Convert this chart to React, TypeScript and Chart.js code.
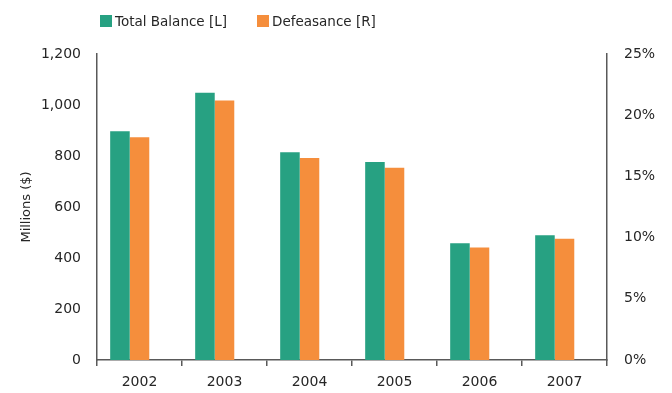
import React, { useEffect, useRef } from "react";
import { Chart, registerables } from "chart.js";

Chart.register(...registerables);

const categories = ["2002", "2003", "2004", "2005", "2006", "2007"];
const totalBalance = [897, 1048, 815, 776, 458, 489];
const defeasance = [18.2, 21.2, 16.5, 15.7, 9.2, 9.9];
const spacer = [null, null, null, null, null, null];
const seriesNames = ["Total Balance [L]", "Defeasance [R]"];
const seriesColors = ["#27a182", "#f58e3c"];
const leftTicks = { min: 0, max: 1200, step: 200 };
const rightTicks = { min: 0, max: 25, step: 5 };

const FONT = "'DejaVu Sans', sans-serif";
const AXIS = "#595959";
const TEXT = "#262626";

export default function App() {
  const ref = useRef<HTMLCanvasElement>(null);

  useEffect(() => {
    if (!ref.current) return;
    const chart = new Chart(ref.current, {
      type: "bar",
      data: {
        labels: categories,
        datasets: [
          {
            label: seriesNames[0],
            data: totalBalance,
            backgroundColor: seriesColors[0],
            yAxisID: "y",
            borderWidth: 0,
          },
          {
            label: seriesNames[1],
            data: defeasance,
            backgroundColor: seriesColors[1],
            yAxisID: "y1",
            borderWidth: 0,
          },
          {
            label: "",
            data: spacer as any,
            backgroundColor: "rgba(0,0,0,0)",
            yAxisID: "y",
            borderWidth: 0,
          },
        ],
      },
      options: {
        animation: false,
        responsive: true,
        maintainAspectRatio: false,
        datasets: { bar: { categoryPercentage: 0.69, barPercentage: 1 } },
        layout: { padding: { top: 46, left: 0, right: 0, bottom: 0 } },
        plugins: {
          legend: { display: false },
          tooltip: { enabled: false },
        },
        scales: {
          x: {
            type: "category",
            offset: true,
            grid: {
              display: true,
              drawOnChartArea: false,
              drawTicks: true,
              tickLength: 6,
              color: AXIS,
              lineWidth: 1.5,
              offset: true,
            },
            border: { display: true, color: AXIS, width: 1.5 },
            ticks: {
              color: TEXT,
              font: { family: FONT, size: 14 },
              padding: 8,
              maxRotation: 0,
            },
            afterFit: (s: any) => {
              s.height = 33;
            },
          },
          y: {
            position: "left",
            min: leftTicks.min,
            max: leftTicks.max,
            grid: { display: false, drawTicks: false },
            border: { display: true, color: AXIS, width: 1.5 },
            ticks: {
              stepSize: leftTicks.step,
              color: TEXT,
              font: { family: FONT, size: 14 },
              padding: 16,
              callback: (v: any) => Number(v).toLocaleString("en-US"),
            },
            title: {
              display: true,
              text: "Millions ($)",
              color: TEXT,
              font: { family: FONT, size: 13 },
              padding: { top: 11, bottom: 0 },
            },
            afterFit: (s: any) => {
              s.width = 89;
            },
          },
          y1: {
            position: "right",
            min: rightTicks.min,
            max: rightTicks.max,
            grid: { display: false, drawTicks: false },
            border: { display: true, color: AXIS, width: 1.5 },
            ticks: {
              stepSize: rightTicks.step,
              color: TEXT,
              font: { family: FONT, size: 14 },
              padding: 17,
              callback: (v: any) => `${v}%`,
            },
            afterFit: (s: any) => {
              s.width = 57;
            },
          },
        },
      },
    });
    return () => chart.destroy();
  }, []);

  const legendLeft = [92, 249];

  return (
    <div style={{ position: "relative", width: 656, height: 385 }}>
      <canvas ref={ref} />
      {seriesNames.map((name, i) => (
        <div
          key={name}
          style={{
            position: "absolute",
            left: legendLeft[i],
            top: 5,
            display: "flex",
            alignItems: "center",
            height: 16,
            fontFamily: FONT,
            fontSize: 13.5,
            color: TEXT,
            whiteSpace: "pre",
          }}
        >
          <span
            style={{
              display: "inline-block",
              width: 12,
              height: 12,
              background: seriesColors[i],
              marginRight: 3,
            }}
          />
          <span>{name}</span>
        </div>
      ))}
    </div>
  );
}
